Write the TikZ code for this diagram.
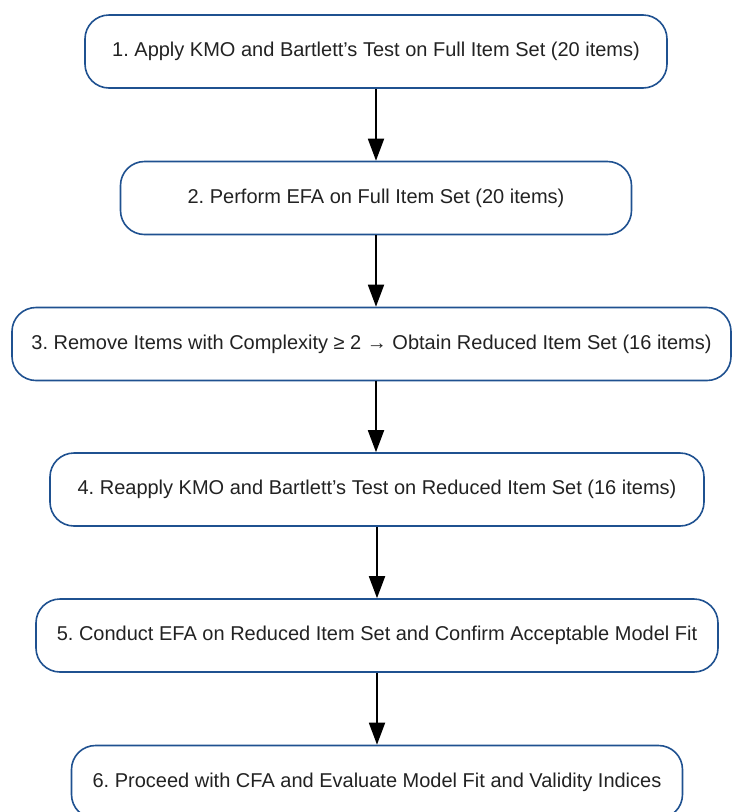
\documentclass[tikz,border=0pt]{standalone}
\usepackage{fontspec}
\setmainfont{Liberation Sans}
\frenchspacing
\usetikzlibrary{arrows.meta}
\definecolor{boxblue}{HTML}{1F5190}
\definecolor{txtgray}{HTML}{222222}
\tikzset{
  stepbox/.style={draw=boxblue,line width=1.6pt,rounded corners=24pt,minimum height=73pt,
    inner sep=0pt,text=txtgray,font=\fontsize{20}{24}\selectfont},
  flow/.style={-{Triangle[length=22pt,width=16pt]},line width=1.8pt}
}
\begin{document}
\begin{tikzpicture}[x=1pt,y=-1pt]
\useasboundingbox (0,0) rectangle (732,812);
\node[stepbox,minimum width=582pt] (s1) at (376,51.5) {1. Apply KMO and Bartlett’s Test on Full Item Set (20 items)};
\node[stepbox,minimum width=511pt] (s2) at (376,198) {2. Perform EFA on Full Item Set (20 items)};
\node[stepbox,minimum width=719pt] (s3) at (371.5,344) {3. Remove Items with Complexity ≥ 2 → Obtain Reduced Item Set (16 items)};
\node[stepbox,minimum width=654pt] (s4) at (377,489.5) {4. Reapply KMO and Bartlett’s Test on Reduced Item Set (16 items)};
\node[stepbox,minimum width=682pt] (s5) at (377,635.5) {5. Conduct EFA on Reduced Item Set and Confirm Acceptable Model Fit};
\node[stepbox,minimum width=611pt] (s6) at (377,782) {6. Proceed with CFA and Evaluate Model Fit and Validity Indices};
\draw[flow] (s1) -- (s2);
\draw[flow] (s2) -- (s2 |- s3.north);
\draw[flow] (s3.south -| s2) -- (s2 |- s4.north);
\draw[flow] (s4) -- (s5);
\draw[flow] (s5) -- (s6);
\end{tikzpicture}
\end{document}
